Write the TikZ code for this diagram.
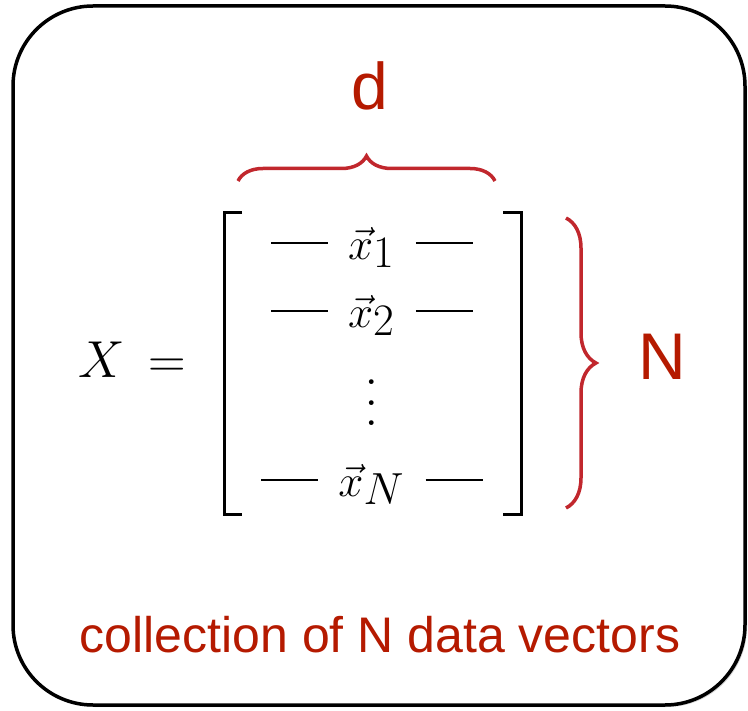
\RequirePackage{fix-cm}
\documentclass[tikz,border=0pt]{standalone}
\usepackage{amsmath,amssymb}
\usepackage{fontspec}
\usepackage{xcolor}
\usepackage{tikz}
\usetikzlibrary{positioning, calc, shadows, decorations.pathreplacing}
\newfontfamily\labelfont{Liberation Sans}
\definecolor{labelred}{RGB}{181,26,0}
\definecolor{bracered}{RGB}{193,39,45}
\newcommand{\vrow}[1]{\rule[16pt]{57pt}{2pt}\hspace{20pt}$\vec{x}$\raisebox{-8pt}{$#1$\/}\hspace{22pt}\rule[16pt]{57pt}{2pt}}
\newcommand{\tallvdots}{\vbox{\fontsize{58}{58}\selectfont\baselineskip=20.5pt\lineskiplimit=-100pt\hbox{.}\hbox{.}\hbox{.}}}
\tikzset{
  panelbox/.style={
    draw, line width=3.5pt, rounded corners=80pt, fill=white,
    drop shadow={opacity=0.35, shadow xshift=2pt, shadow yshift=-2pt}
  },
  biglabel/.style={font=\labelfont\fontsize{66}{70}\selectfont, text=labelred, inner sep=0pt, anchor=base},
  captionlabel/.style={font=\labelfont\fontsize{50}{56}\selectfont, text=labelred, inner sep=0pt, anchor=base},
  rowentry/.style={font=\fontsize{45}{50}\selectfont, inner sep=0pt, anchor=base},
  lhs/.style={font=\fontsize{52}{56}\selectfont, inner sep=0pt, anchor=base west},
  bracketline/.style={line width=3pt},
  redbrace/.style={decorate, decoration={brace, amplitude=#1}, line width=3.5pt, draw=bracered},
}
\begin{document}
\begin{tikzpicture}[x=1pt, y=-1pt]
  \useasboundingbox (0,0) rectangle (748,711);

  % Frame
  \draw[panelbox] (13,6) rectangle (745,705);

  % Left hand side
  \node[lhs] (lhs) at (78,378) {$X$\hspace{24pt}$=$};

  % Rows
  \node[rowentry] (row1) at (372,260) {\vrow{1}};
  \node[rowentry] (row2) at (372,328) {\vrow{2}};
  \node[rowentry, anchor=center] (dots) at (372,403) {\tallvdots};
  \node[rowentry] (rowN) at (372,497) {\vrow{N}};

  % Brackets
  \coordinate (lbtop) at (224,213);
  \coordinate (lbbot) at (224,515);
  \coordinate (rbtop) at (521,213);
  \coordinate (rbbot) at (521,515);
  \draw[bracketline] ($(lbtop)+(18,0)$) -- (lbtop) -- (lbbot) -- ++(18,0);
  \draw[bracketline] ($(rbtop)+(-18,0)$) -- (rbtop) -- (rbbot) -- ++(-18,0);

  % Braces
  \coordinate (dleft) at (238,181);
  \coordinate (dright) at (495,181);
  \coordinate (ntop) at (566,218);
  \coordinate (nbot) at (566,508);
  \draw[redbrace=25pt] (dleft) -- (dright);
  \draw[redbrace=30pt] (ntop) -- (nbot);

  % Labels
  \node[biglabel] (dlabel) at (370,110) {d};
  \node[biglabel] (nlabel) at (662,380) {N};
  \node[captionlabel] (caption) at (380,652) {collection of N data vectors};
\end{tikzpicture}
\end{document}
